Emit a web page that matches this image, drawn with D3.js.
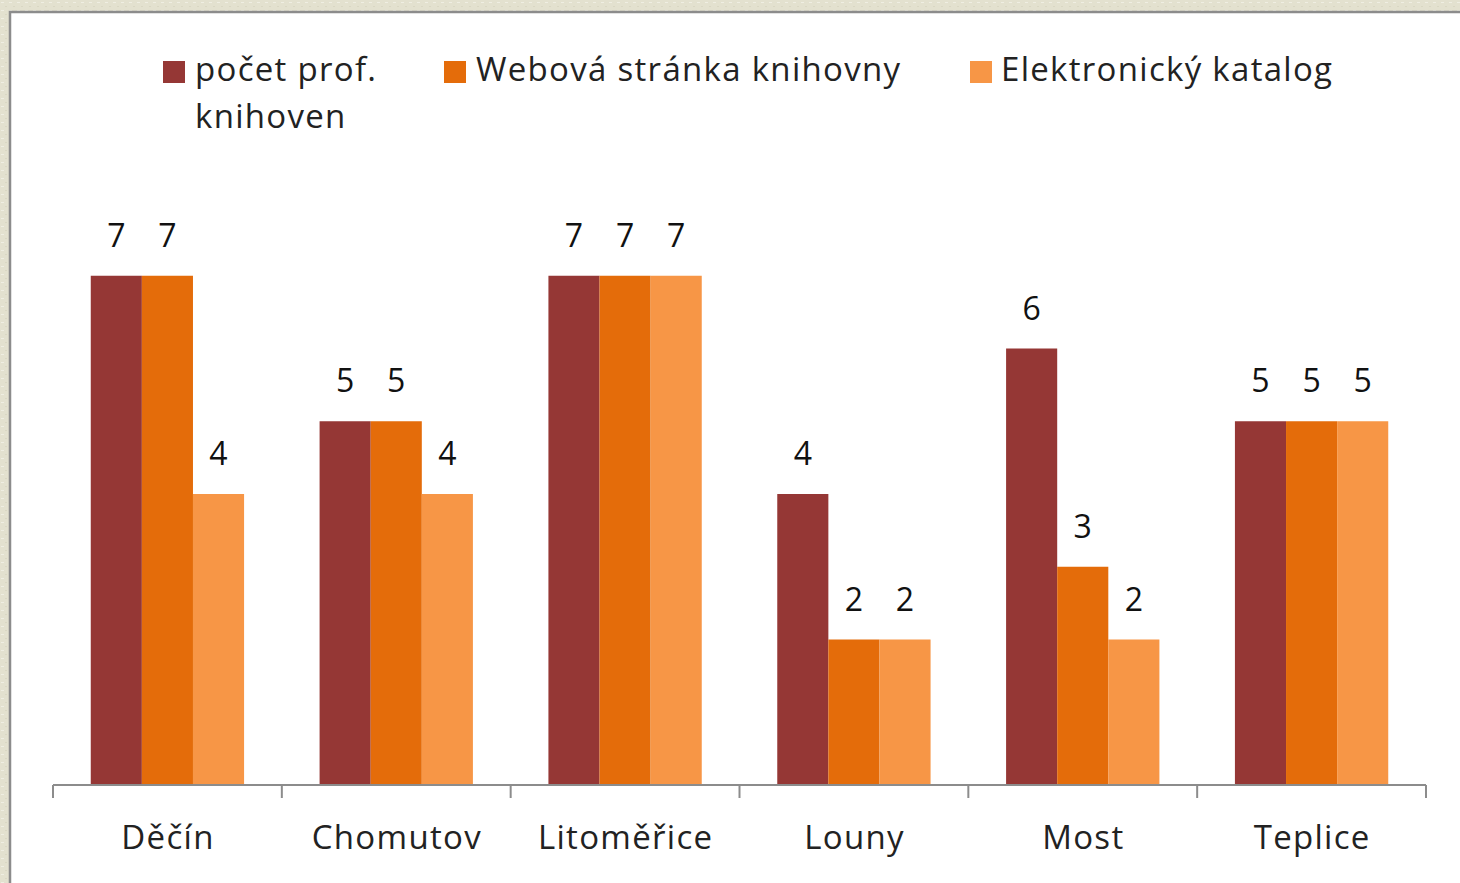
<!DOCTYPE html>
<html><head><meta charset="utf-8">
<script src="https://cdn.jsdelivr.net/npm/d3@7"></script>
<style>
html,body{margin:0;padding:0;background:#e6e4d4;}
svg{display:block;}
</style></head>
<body>
<svg id="c" width="1460" height="883"></svg>
<script>
const categories = ["Děčín", "Chomutov", "Litoměřice", "Louny", "Most", "Teplice"];
const seriesNames = ["počet prof. knihoven", "Webová stránka knihovny", "Elektronický katalog"];
const seriesColors = ["#953735", "#E46C0A", "#F79646"];
const profKnihoven = [7, 5, 7, 4, 6, 5];
const webStranka = [7, 5, 7, 2, 3, 5];
const elKatalog = [4, 4, 7, 2, 2, 5];
const seriesValues = [profKnihoven, webStranka, elKatalog];

const svg = d3.select("#c");
const font = "'Open Sans', sans-serif";

// background texture-ish
const defs = svg.append("defs");
const pat = defs.append("pattern").attr("id","tex").attr("width",8).attr("height",8).attr("patternUnits","userSpaceOnUse");
pat.append("rect").attr("width",8).attr("height",8).attr("fill","#e3e1cf");
pat.append("rect").attr("x",1).attr("y",2).attr("width",3).attr("height",1).attr("fill","#efeee2");
pat.append("rect").attr("x",5).attr("y",6).attr("width",2).attr("height",1).attr("fill","#d9d7c3");
svg.append("rect").attr("width",1460).attr("height",883).attr("fill","url(#tex)");

// white panel with gray border
svg.append("rect").attr("x",10).attr("y",12).attr("width",1470).attr("height",900)
  .attr("fill","#ffffff").attr("stroke","#8c8c8c").attr("stroke-width",2.5);

const plot = {left: 53, right: 1426, top: 203, bottom: 785};
const x0 = d3.scaleBand().domain(categories).range([plot.left, plot.right]).padding(0);
const gap = 0.33 * x0.bandwidth();
const x1 = d3.scaleBand().domain(d3.range(seriesNames.length)).range([gap/2, x0.bandwidth() - gap/2]).padding(0);
const y = d3.scaleLinear().domain([0, 8]).range([plot.bottom, plot.top]);

const groups = svg.append("g").selectAll("g").data(categories).join("g")
  .attr("transform", d => `translate(${x0(d)},0)`);

groups.each(function(cat, ci) {
  const g = d3.select(this);
  seriesValues.forEach((vals, si) => {
    const v = vals[ci];
    g.append("rect")
      .attr("x", x1(si)).attr("width", x1.bandwidth())
      .attr("y", y(v)).attr("height", y(0) - y(v))
      .attr("fill", seriesColors[si]);
    g.append("text")
      .attr("x", x1(si) + x1.bandwidth()/2)
      .attr("y", y(v) - 29)
      .attr("text-anchor", "middle")
      .attr("font-family", font).attr("font-size", 32).attr("fill", "#111")
      .text(v);
  });
});

// axis
const ag = svg.append("g").attr("transform", `translate(0,${plot.bottom})`);
ag.append("line").attr("x1", plot.left).attr("x2", plot.right).attr("stroke", "#8c8c8c").attr("stroke-width", 2);
const tickPos = categories.map(c => x0(c)).concat([plot.right]);
ag.selectAll("line.t").data(tickPos).join("line").attr("class","t")
  .attr("x1", d => d).attr("x2", d => d).attr("y1", 0).attr("y2", 13)
  .attr("stroke", "#8c8c8c").attr("stroke-width", 2);
ag.selectAll("text").data(categories).join("text")
  .attr("x", d => x0(d) + x0.bandwidth()/2 + 0.6).attr("y", 64)
  .attr("text-anchor", "middle").attr("font-family", font).attr("font-size", 33)
  .attr("letter-spacing", 1.3).attr("fill", "#222")
  .text(d => d);

// legend
const legend = [
  {sq: 163, tx: 195, lines: ["počet prof.", "knihoven"]},
  {sq: 444, tx: 476, lines: ["Webová stránka knihovny"]},
  {sq: 970, tx: 1001, lines: ["Elektronický katalog"]}
];
const lg = svg.append("g");
legend.forEach((l, i) => {
  lg.append("rect").attr("x", l.sq).attr("y", 61).attr("width", 22).attr("height", 22).attr("fill", seriesColors[i]);
  const t = lg.append("text").attr("x", l.tx).attr("y", 81).attr("font-family", font).attr("font-size", 33)
    .attr("letter-spacing", 1.3).attr("fill", "#222");
  l.lines.forEach((ln, j) => t.append("tspan").attr("x", l.tx).attr("dy", j === 0 ? 0 : 47).text(ln));
});
</script>
</body></html>
